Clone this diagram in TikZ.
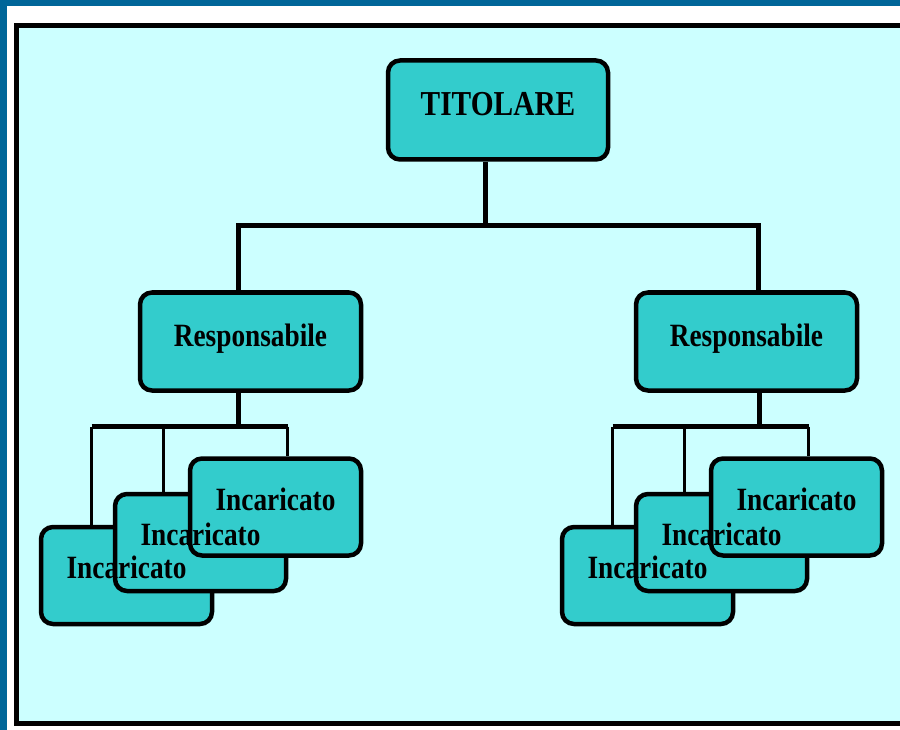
\documentclass[tikz,border=0pt]{standalone}
\usepackage{fontspec}
\setmainfont{Liberation Serif}[FakeStretch=0.84]
\usetikzlibrary{positioning, calc}
\definecolor{frameblue}{RGB}{0,102,153}
\definecolor{paleaqua}{RGB}{204,255,255}
\definecolor{boxteal}{RGB}{51,204,204}

\begin{document}
\begin{tikzpicture}[x=1pt, y=-1pt,
  orgbox/.style={draw, line width=4.5pt, fill=boxteal, rounded corners=12pt, inner sep=0pt},
  topbox/.style={orgbox, minimum width=220pt, minimum height=99pt},
  respbox/.style={orgbox, minimum width=221pt, minimum height=98pt},
  incbox/.style={orgbox, minimum width=171pt, minimum height=97pt},
  lbl/.style={anchor=base, inner sep=0pt, font=\bfseries\fontsize{32.5}{36}\selectfont},
  link/.style={line width=4.5pt},
  sublink/.style={line width=3.5pt}
]
  % frame
  \useasboundingbox (0,0) rectangle (900,730);
  \clip (0,0) rectangle (900,730);
  \fill[frameblue] (0,0) rectangle (900,730);
  \fill[white] (7,6) rectangle (910,740);
  \draw[line width=5pt, fill=paleaqua] (16.5,25.5) rectangle (920,723.7);

  % boxes
  \node[topbox] (tit) at (498,110) {};
  \node[respbox] (respL) at (250.5,341.5) {};
  \node[respbox] (respR) at (746.5,341.5) {};
  \foreach \s/\dx in {L/0, R/521} {
    \node[incbox] (inc\s1) at (126.5+\dx,575.5) {};
    \node[incbox] (inc\s2) at (200.5+\dx,542.5) {};
    \node[incbox] (inc\s3) at (275.5+\dx,507) {};
  }

  % connectors
  \coordinate (hub) at (485.5,225.5);
  \coordinate (busL) at (238.5,225.5);
  \coordinate (busR) at (758.5,225.5);
  \draw[link] (tit.south -| hub) -- (hub);
  \draw[link] (respL.north -| busL) -- (busL) -- (busR) -- (respR.north -| busR);
  \foreach \s/\dx in {L/0, R/521} {
    \coordinate (fork\s) at (238.5+\dx,426.5);
    \coordinate (drop\s1) at (91.5+\dx,426.5);
    \coordinate (drop\s2) at (163.5+\dx,426.5);
    \coordinate (drop\s3) at (287.5+\dx,426.5);
    \draw[link] (resp\s.south -| fork\s) -- (fork\s);
    \draw[link] (drop\s1) -- (drop\s3);
    \foreach \k in {1,2,3}
      \draw[sublink] (drop\s\k) -- (drop\s\k |- inc\s\k.north);
  }

  % labels on top of everything
  \node[lbl, yshift=-5.7pt, font=\bfseries\fontsize{35}{40}\selectfont] (titT) at (tit.center) {TITOLARE};
  \node[lbl, yshift=-5pt] (respLT) at (respL.center) {Responsabile};
  \node[lbl, yshift=-5pt] (respRT) at (respR.center) {Responsabile};
  \foreach \s in {L,R} {
    \node[lbl, yshift=-2.5pt] (inc\s1T) at (inc\s1.center) {Incaricato};
    \node[lbl, yshift=-2.5pt] (inc\s2T) at (inc\s2.center) {Incaricato};
    \node[lbl, yshift=-3pt] (inc\s3T) at (inc\s3.center) {Incaricato};
  }
\end{tikzpicture}
\end{document}
